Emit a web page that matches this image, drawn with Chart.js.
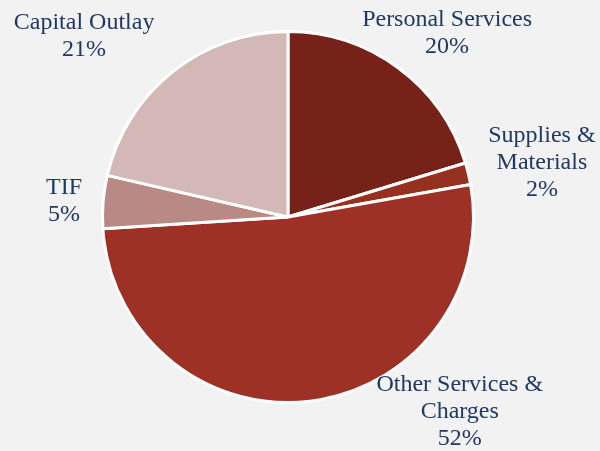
<!DOCTYPE html>
<html>
<head>
<meta charset="utf-8">
<script src="https://cdn.jsdelivr.net/npm/chart.js@4"></script>
<style>
  html, body { margin: 0; padding: 0; background: #F2F2F2; }
  #wrap { width: 600px; height: 451px; }
</style>
</head>
<body>
<div id="wrap"><canvas id="chart"></canvas></div>
<script>
// Data
const categories = ['Personal Services', 'Supplies & Materials', 'Other Services & Charges', 'TIF', 'Capital Outlay'];
const labelLines = [['Personal Services'], ['Supplies &', 'Materials'], ['Other Services &', 'Charges'], ['TIF'], ['Capital Outlay']];
const shares = [20.3, 1.9, 51.8, 4.6, 21.4];
const sliceColors = ['#762219', '#96301F', '#9E3126', '#B98A85', '#D4B8B7'];

// Label placement: angle (deg clockwise from top) and distance as a multiple of radius
const labelAngle = [40.9, 77.9, 138.6, 274, 311.6];
const labelDist = [1.31, 1.40, 1.40, 1.21, 1.47];

const labelPlugin = {
  id: 'sliceLabels',
  afterDraw(chart) {
    const ctx = chart.ctx;
    const arc = chart.getDatasetMeta(0).data[0];
    const cx = arc.x, cy = arc.y, r = arc.outerRadius;
    ctx.save();
    ctx.font = '24px "Liberation Serif", "Times New Roman", serif';
    ctx.fillStyle = '#1F3864';
    ctx.textAlign = 'center';
    ctx.textBaseline = 'middle';
    const lineH = 27;
    categories.forEach((c, i) => {
      const a = labelAngle[i] * Math.PI / 180;
      const x = cx + Math.sin(a) * r * labelDist[i];
      const y = cy - Math.cos(a) * r * labelDist[i];
      const lines = labelLines[i].concat([Math.round(shares[i]) + '%']);
      const top = y - (lines.length - 1) * lineH / 2;
      lines.forEach((t, j) => ctx.fillText(t, x, top + j * lineH));
    });
    ctx.restore();
  }
};

new Chart(document.getElementById('chart'), {
  type: 'pie',
  data: {
    labels: categories,
    datasets: [{
      data: shares,
      backgroundColor: sliceColors,
      borderColor: '#FFFFFF',
      borderWidth: 3
    }]
  },
  options: {
    responsive: true,
    maintainAspectRatio: false,
    animation: false,
    layout: { padding: { left: 101, right: 125, top: 30, bottom: 47 } },
    plugins: {
      legend: { display: false },
      tooltip: { enabled: false }
    }
  },
  plugins: [labelPlugin]
});
</script>
</body>
</html>
